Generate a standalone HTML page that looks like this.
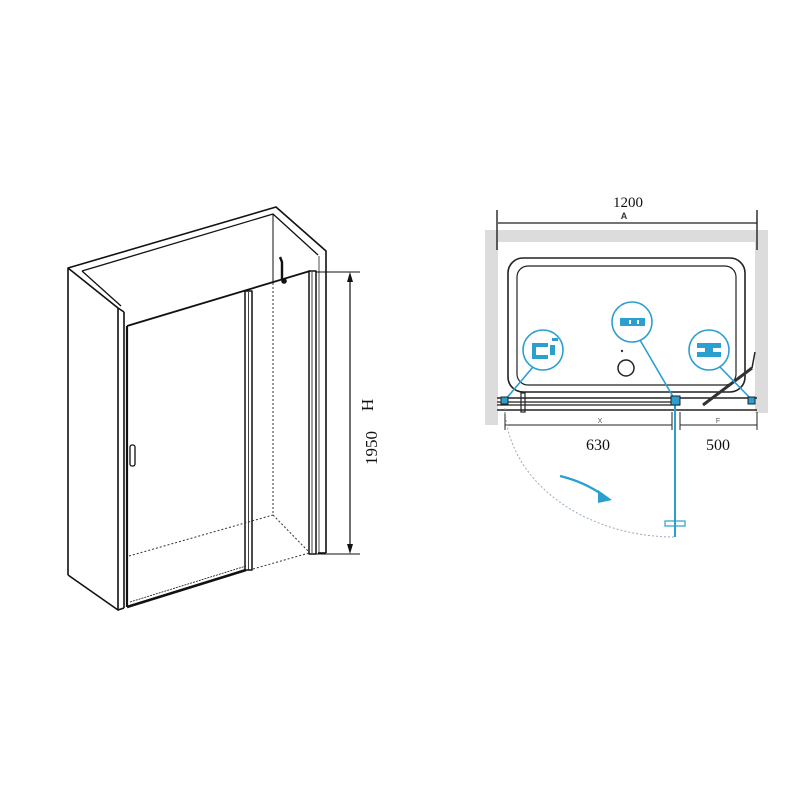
<!DOCTYPE html>
<html><head><meta charset="utf-8"><style>
html,body{margin:0;padding:0;background:#fff;width:800px;height:800px;overflow:hidden}
</style></head><body>
<svg width="800" height="800" viewBox="0 0 800 800" xmlns="http://www.w3.org/2000/svg">
<rect width="800" height="800" fill="#fff"/>
<!-- LEFT ISO DRAWING -->
<g fill="none" stroke="#111" stroke-width="1.6" stroke-linejoin="round">
  <!-- outer walls -->
  <polyline points="68,575 68,268 276,207 326,251 326,553"/>
  <polyline points="68,268 118,308 118,610 68,575"/>
  <line x1="118" y1="308" x2="124" y2="312"/>
  <line x1="124" y1="312" x2="124" y2="608"/>
  <line x1="118" y1="610" x2="124" y2="608"/>
  <polyline points="82,271 273,214 318,255" stroke-width="1.3"/>
  <line x1="82" y1="271" x2="121" y2="306" stroke-width="1.3"/>
  <line x1="273" y1="214" x2="273" y2="283" stroke-width="1"/>
  <line x1="319" y1="256" x2="319" y2="553" stroke="#888" stroke-width="1.5"/>
  <line x1="318" y1="553" x2="326" y2="553"/>
  <!-- top rail -->
  <line x1="127" y1="326" x2="310" y2="271" stroke-width="1.8"/>
  <!-- door -->
  <line x1="127" y1="326" x2="127" y2="607" stroke-width="2.2"/>
  <line x1="127" y1="607" x2="246" y2="570" stroke-width="2.6"/>
  <line x1="130" y1="602" x2="246" y2="566" stroke-width="0.8" stroke-dasharray="2,1"/>
  <!-- handle -->
  <rect x="130" y="445" width="5" height="21" rx="2" stroke-width="1.3"/>
  <!-- middle profile -->
  <rect x="245" y="291" width="7" height="279" stroke-width="1.5"/>
  <line x1="248.5" y1="292" x2="248.5" y2="570" stroke-width="0.8"/>
  <!-- right profile -->
  <rect x="309" y="271" width="7" height="283" stroke-width="1.5"/>
  <line x1="312" y1="272" x2="312" y2="553" stroke-width="0.8"/>
  <!-- hook -->
  <polyline points="280,257 282,262 282,280" stroke-width="2.4"/>
  <circle cx="284" cy="281" r="2" fill="#111"/>
  <!-- dashed -->
  <g stroke-dasharray="2,2" stroke-width="1" stroke="#333">
    <line x1="273" y1="283" x2="273" y2="515"/>
    <line x1="129" y1="556" x2="273" y2="515"/>
    <line x1="273" y1="515" x2="309" y2="552"/>
    <line x1="253" y1="569" x2="309" y2="553"/>
  </g>
  <!-- dimension H -->
  <line x1="316" y1="272" x2="360" y2="272" stroke-width="1"/>
  <line x1="316" y1="554" x2="360" y2="554" stroke-width="1"/>
  <line x1="350" y1="276" x2="350" y2="550" stroke-width="1.2"/>
</g>
<polygon points="350,272 347,282 353,282" fill="#111"/>
<polygon points="350,554 347,544 353,544" fill="#111"/>
<text x="0" y="0" transform="translate(373,405) rotate(-90)" font-family="Liberation Serif, serif" font-size="17" text-anchor="middle" fill="#111">H</text>
<text x="0" y="0" transform="translate(377,448) rotate(-90)" font-family="Liberation Serif, serif" font-size="17" text-anchor="middle" fill="#111">1950</text>

<!-- RIGHT PLAN DRAWING -->
<g>
  <rect x="498" y="230" width="257" height="12" fill="#dcdcdc"/>
  <rect x="485" y="230" width="13" height="195" fill="#dcdcdc"/>
  <rect x="755" y="230" width="13" height="183" fill="#dcdcdc"/>
</g>
<text x="628" y="207" font-family="Liberation Serif, serif" font-size="15" text-anchor="middle" fill="#111">1200</text>
<text x="624" y="219" font-family="Liberation Sans, sans-serif" font-size="9" font-weight="bold" text-anchor="middle" fill="#333">A</text>
<g fill="none" stroke="#222">
  <line x1="498" y1="223" x2="757" y2="223" stroke-width="1.2"/>
  <line x1="497" y1="210" x2="497" y2="250" stroke-width="1.4"/>
  <line x1="757" y1="210" x2="757" y2="250" stroke-width="1.4"/>
  <rect x="508" y="258" width="237" height="134" rx="15" stroke-width="1.6"/>
  <rect x="517" y="266" width="219" height="119" rx="11" stroke-width="1.2"/>
  <circle cx="626" cy="368" r="8" stroke-width="1.5"/>
  <!-- rail -->
  <line x1="497" y1="398" x2="757" y2="398" stroke-width="1.4"/>
  <line x1="497" y1="402" x2="680" y2="402" stroke-width="1.2"/>
  <line x1="497" y1="405" x2="680" y2="405" stroke-width="1.2"/>
  <line x1="497" y1="410" x2="757" y2="410" stroke-width="1.4"/>
  <rect x="521" y="393" width="4" height="19" stroke-width="1.2"/>
  <line x1="703" y1="405" x2="752" y2="368" stroke="#333" stroke-width="3"/>
  <line x1="752" y1="368" x2="755" y2="352" stroke-width="1.5"/>
  <!-- dims -->
  <line x1="505" y1="412" x2="505" y2="430" stroke-width="1"/>
  <line x1="672" y1="412" x2="672" y2="430" stroke-width="1"/>
  <line x1="680" y1="412" x2="680" y2="430" stroke-width="1"/>
  <line x1="757" y1="412" x2="757" y2="430" stroke-width="1"/>
  <line x1="505" y1="425" x2="672" y2="425" stroke-width="1"/>
  <line x1="680" y1="425" x2="757" y2="425" stroke-width="1"/>
  <!-- dotted arc -->
  <path d="M505,408 A170,132 0 0 0 675,537" stroke="#9ab" stroke-width="1" stroke-dasharray="2,2"/>
</g>
<circle cx="622" cy="351" r="1.2" fill="#333"/>
<text x="600" y="423" font-family="Liberation Sans, sans-serif" font-size="7" text-anchor="middle" fill="#555">X</text>
<text x="718" y="423" font-family="Liberation Sans, sans-serif" font-size="7" text-anchor="middle" fill="#555">F</text>
<text x="598" y="450" font-family="Liberation Serif, serif" font-size="16" text-anchor="middle" fill="#111">630</text>
<text x="718" y="450" font-family="Liberation Serif, serif" font-size="16" text-anchor="middle" fill="#111">500</text>
<!-- blue parts -->
<g fill="none" stroke="#2a9fd0" stroke-width="1.6">
  <circle cx="543" cy="350" r="20"/>
  <circle cx="632" cy="322" r="20"/>
  <circle cx="709" cy="350" r="20"/>
  <line x1="533" y1="367" x2="505" y2="400"/>
  <line x1="640" y1="340" x2="675" y2="400"/>
  <line x1="720" y1="367" x2="752" y2="400"/>
  <line x1="675" y1="402" x2="675" y2="537" stroke-width="2"/>
  <rect x="665" y="521" width="20" height="5" stroke-width="1.2"/>
  <path d="M560,476 Q585,482 604,496" stroke-width="2.2"/>
</g>
<polygon points="612,500 598,490 598,503" fill="#2a9fd0"/>
<rect x="671" y="396" width="9" height="9" fill="#2a9fd0" stroke="#222"/>
<rect x="501" y="397" width="7" height="7" fill="#2a9fd0" stroke="#222"/>
<rect x="748" y="397" width="7" height="7" fill="#2a9fd0" stroke="#222"/>
<!-- icons -->
<g fill="#2a9fd0">
  <path d="M532,343 h16 v4 h-12 v8 h12 v4 h-16 z"/>
  <path d="M550,345 h5 v10 h-5 z"/>
  <rect x="552" y="338" width="6" height="3"/>
  <rect x="620" y="318" width="25" height="8"/>
  <path d="M697,343 h24 v5 h-8 v4 h8 v5 h-24 v-5 h8 v-4 h-8 z"/>
</g>
<rect x="629" y="320" width="2" height="4" fill="#fff"/>
<rect x="637" y="320" width="2" height="4" fill="#fff"/>
</svg>
</body></html>
